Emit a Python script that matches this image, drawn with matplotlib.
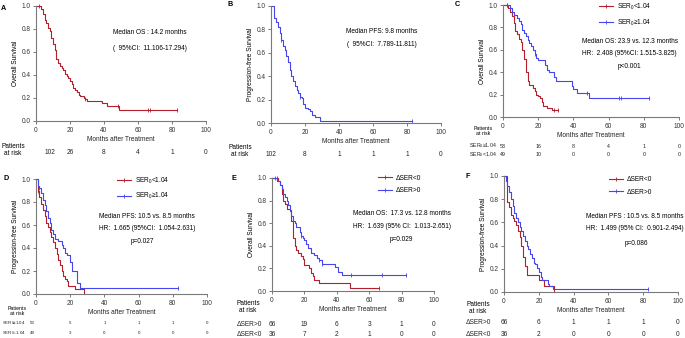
import numpy as np
import matplotlib
matplotlib.use("Agg")
import matplotlib.pyplot as plt
from matplotlib.lines import Line2D
from matplotlib.transforms import blended_transform_factory

plt.rcParams['font.family'] = ['Liberation Sans', 'DejaVu Sans']
plt.rcParams['mathtext.fontset'] = 'custom'
plt.rcParams['mathtext.rm'] = 'Liberation Sans'
plt.rcParams['mathtext.it'] = 'Liberation Sans'
plt.rcParams['mathtext.default'] = 'regular'

RED = "#b3202c"
BLUE = "#4646ee"

# ---------------- data ----------------
# Panel A: overall survival (all patients)
a_t = [0, 3, 4, 5, 6, 7, 8, 9, 10, 11, 12, 13, 14, 15, 16, 17, 18, 19, 20, 21, 22, 23, 24, 25, 26, 28, 29, 30, 31, 39, 42, 49, 83]
a_s = [1.0, 0.97, 0.93, 0.88, 0.85, 0.81, 0.78, 0.72, 0.67, 0.62, 0.54, 0.50, 0.48, 0.46, 0.44, 0.41, 0.39, 0.37, 0.35, 0.32, 0.29, 0.27, 0.25, 0.23, 0.22, 0.20, 0.19, 0.175, 0.175, 0.16, 0.13, 0.095, 0.095]
a_c = [2, 29, 48, 66, 67, 83]

# Panel B: progression-free survival (all patients)
b_t = [0, 2, 3, 4, 5, 6, 7, 8, 9, 10, 11, 12, 13, 14, 15, 16, 17, 18, 19, 20, 22, 23, 24, 26, 29, 83]
b_s = [1.0, 0.90, 0.86, 0.82, 0.77, 0.71, 0.66, 0.62, 0.57, 0.52, 0.45, 0.40, 0.36, 0.32, 0.28, 0.26, 0.22, 0.21, 0.16, 0.13, 0.12, 0.10, 0.07, 0.05, 0.02, 0.02]
b_c = [6, 17, 83]

# Panel C: OS by SER0
c_red_t = [0, 3, 4, 5, 6, 7, 8, 9, 10, 11, 12, 13, 14, 15, 17, 18, 19, 20, 21, 22, 23, 25, 28, 31]
c_red_s = [1.0, 0.97, 0.94, 0.90, 0.84, 0.77, 0.74, 0.70, 0.67, 0.60, 0.52, 0.40, 0.32, 0.29, 0.26, 0.23, 0.20, 0.19, 0.17, 0.13, 0.10, 0.08, 0.06, 0.06]
c_red_c = [2, 29, 31]
c_blue_t = [0, 4, 5, 6, 8, 9, 10, 11, 12, 13, 14, 15, 16, 17, 18, 19, 20, 24, 25, 26, 29, 30, 39, 40, 42, 49, 83]
c_blue_s = [1.0, 0.97, 0.94, 0.91, 0.88, 0.86, 0.83, 0.78, 0.75, 0.72, 0.69, 0.66, 0.63, 0.60, 0.56, 0.53, 0.51, 0.46, 0.42, 0.40, 0.36, 0.32, 0.28, 0.25, 0.21, 0.17, 0.17]
c_blue_c = [2, 18, 48, 66, 67, 83]

# Panel D: PFS by SER0
d_red_t = [0, 1, 2, 3, 4, 5, 6, 7, 8, 9, 10, 11, 12, 13, 14, 15, 16, 17, 18, 19, 23, 28]
d_red_s = [1.0, 0.90, 0.84, 0.78, 0.73, 0.68, 0.62, 0.58, 0.54, 0.50, 0.45, 0.40, 0.35, 0.30, 0.25, 0.20, 0.16, 0.13, 0.11, 0.07, 0.04, 0.0]
d_red_c = [1]
d_blue_t = [0, 1, 2, 3, 4, 5, 6, 7, 8, 9, 10, 11, 13, 15, 16, 17, 18, 20, 21, 24, 26, 83]
d_blue_s = [1.0, 0.94, 0.92, 0.88, 0.82, 0.77, 0.72, 0.66, 0.62, 0.56, 0.52, 0.48, 0.46, 0.43, 0.40, 0.36, 0.34, 0.28, 0.20, 0.10, 0.05, 0.05]
d_blue_c = [2, 83]

# Panel E: OS by delta SER
e_red_t = [0, 4, 5, 6, 7, 8, 9, 11, 12, 13, 14, 15, 16, 18, 19, 20, 23, 24, 25, 26, 29, 48, 66]
e_red_s = [1.0, 0.97, 0.94, 0.86, 0.80, 0.77, 0.73, 0.71, 0.62, 0.47, 0.40, 0.36, 0.34, 0.31, 0.28, 0.23, 0.20, 0.16, 0.13, 0.10, 0.07, 0.03, 0.03]
e_red_c = [3, 66]
e_blue_t = [0, 3, 5, 6, 7, 8, 9, 10, 11, 12, 13, 14, 15, 17, 18, 19, 20, 21, 22, 24, 26, 28, 29, 31, 39, 41, 43, 83]
e_blue_s = [1.0, 0.97, 0.94, 0.90, 0.86, 0.83, 0.80, 0.76, 0.72, 0.66, 0.62, 0.60, 0.57, 0.52, 0.49, 0.47, 0.45, 0.42, 0.38, 0.34, 0.32, 0.29, 0.27, 0.24, 0.21, 0.17, 0.14, 0.14]
e_blue_c = [2, 18, 29, 31, 49, 68, 83]

# Panel F: PFS by delta SER
f_red_t = [0, 2, 3, 4, 5, 6, 7, 8, 9, 10, 11, 12, 13, 20, 23, 29]
f_red_s = [1.0, 0.78, 0.73, 0.66, 0.64, 0.61, 0.58, 0.53, 0.47, 0.40, 0.30, 0.22, 0.15, 0.10, 0.05, 0.0]
f_red_c = []
f_blue_t = [0, 1, 2, 3, 4, 5, 6, 7, 8, 9, 10, 11, 12, 13, 14, 15, 16, 17, 18, 19, 20, 21, 22, 25, 26, 28, 83]
f_blue_s = [1.0, 0.96, 0.91, 0.86, 0.80, 0.74, 0.68, 0.64, 0.60, 0.56, 0.53, 0.48, 0.44, 0.40, 0.37, 0.33, 0.29, 0.25, 0.24, 0.21, 0.17, 0.13, 0.10, 0.07, 0.05, 0.03, 0.03]
f_blue_c = [83]

risk_times = [0, 20, 40, 60, 80, 100]
risk_a = [102, 26, 8, 4, 1, 0]
risk_b = [102, 8, 1, 1, 1, 0]
risk_c_hi = [53, 16, 8, 4, 1, 0]
risk_c_lo = [49, 10, 0, 0, 0, 0]
risk_d_hi = [53, 5, 1, 1, 1, 0]
risk_d_lo = [49, 3, 0, 0, 0, 0]
risk_e_pos = [66, 19, 6, 3, 1, 0]
risk_e_neg = [36, 7, 2, 1, 0, 0]
risk_f_pos = [66, 6, 1, 1, 1, 0]
risk_f_neg = [36, 2, 0, 0, 0, 0]

lab_ser_lo = "SER$_0$<1.04"
lab_ser_hi = "SER$_0$≥1.04"
lab_d_neg = "ΔSER<0"
lab_d_pos = "ΔSER>0"

# ---------------- figure ----------------
W, H = 685, 338
fig = plt.figure(figsize=(W / 100, H / 100), dpi=100)
FS = 4.7
FS_SMALL = 3.8
GRAY = "#7a7a7a"


def add_ax(l, r, t, b):
    ax = fig.add_axes([l / W, 1 - b / H, (r - l) / W, (b - t) / H])
    ax.set_xlim(0, 100)
    ax.set_ylim(0, 1.0)
    ax.set_xticks(risk_times)
    ax.set_yticks([0, 0.2, 0.4, 0.6, 0.8, 1.0])
    ax.set_yticklabels(["0.0", "0.2", "0.4", "0.6", "0.8", "1.0"])
    for s in ["top", "right"]:
        ax.spines[s].set_visible(False)
    for s in ["left", "bottom"]:
        ax.spines[s].set_color(GRAY)
        ax.spines[s].set_linewidth(0.8)
    ax.tick_params(length=2.5, width=0.7, color=GRAY, labelsize=FS, pad=1.5, labelcolor="#333333")
    ax.set_xlabel("Months after Treatment", fontsize=FS, labelpad=1.5, color="#222222")
    return ax


def km(ax, t, s, cens, color):
    ax.step(t, s, where="post", color=color, lw=0.8, clip_on=False)
    t_arr = np.array(t)
    s_arr = np.array(s)
    for c in cens:
        i = np.searchsorted(t_arr, c, side="right") - 1
        ax.plot([c], [s_arr[i]], marker="|", ms=2.5, mew=0.6, color=color, clip_on=False)


def risk_row(ax, y_px, values, label=None, label_x_px=None, first_x=None, fs=FS, label_ha="right"):
    tr = blended_transform_factory(ax.transData, fig.transFigure)
    for k, (tm, v) in enumerate(zip(risk_times, values)):
        x = tm if (k > 0 or first_x is None) else first_x
        ax.text(x, 1 - y_px / H, str(v), transform=tr, ha="center", va="center", fontsize=fs, color="#222222")
    if label is not None:
        fig.text(label_x_px / W, 1 - y_px / H, label, ha=label_ha, va="center", fontsize=fs, color="#222222")


def legend_handles():
    return [Line2D([], [], color=RED, lw=0.8, marker="|", ms=2.5, mew=0.6),
            Line2D([], [], color=BLUE, lw=0.8, marker="|", ms=2.5, mew=0.6)]


def add_legend(ax, labels, x, y):
    ax.legend(legend_handles(), labels, loc="upper left", bbox_to_anchor=(x, y),
              frameon=False, fontsize=FS, handlelength=2.2, handletextpad=0.6, labelspacing=0.85,
              borderpad=0, borderaxespad=0)


def panel_letter(x, y, s):
    fig.text(x / W, 1 - y / H, s, fontsize=5.2, fontweight="bold", ha="left", va="center")


# Panel A
axA = add_ax(36, 206, 6, 121)
km(axA, a_t, a_s, a_c, RED)
axA.set_ylabel("Overall Survival", fontsize=FS, labelpad=2)
axA.text(67, 0.77, "Median OS : 14.2 months", ha="center", va="center", fontsize=FS)
axA.text(67, 0.63, "(  95%CI:  11.106-17.294)", ha="center", va="center", fontsize=FS)
fig.text(13 / W, 1 - 150 / H, "Patients\nat risk", ha="center", va="center", fontsize=FS, linespacing=1.1)
risk_row(axA, 153, risk_a, first_x=8)
panel_letter(1, 8, "A")

# Panel B
axB = add_ax(271, 441, 6, 123)
km(axB, b_t, b_s, b_c, BLUE)
axB.set_ylabel("Progression-free Survival", fontsize=FS, labelpad=2)
axB.text(65, 0.78, "Median PFS: 9.8 months", ha="center", va="center", fontsize=FS)
axB.text(65, 0.675, "(  95%CI:  7.789-11.811)", ha="center", va="center", fontsize=FS)
fig.text(240 / W, 1 - 151 / H, "Patients\nat risk", ha="center", va="center", fontsize=FS, linespacing=1.1)
risk_row(axB, 154, risk_b)
panel_letter(228, 5, "B")

# Panel C
axC = add_ax(503, 679, 5, 117)
km(axC, c_red_t, c_red_s, c_red_c, RED)
km(axC, c_blue_t, c_blue_s, c_blue_c, BLUE)
axC.set_ylabel("Overall Survival", fontsize=FS, labelpad=2)
add_legend(axC, [lab_ser_lo, lab_ser_hi], 0.545, 1.03)
axC.text(72, 0.67, "Median OS: 23.9 vs. 12.3 months", ha="center", va="center", fontsize=FS)
axC.text(72, 0.57, "HR:  2.408 (95%CI: 1.515-3.825)", ha="center", va="center", fontsize=FS)
axC.text(72, 0.455, "p<0.001", ha="center", va="center", fontsize=FS)
fig.text(483 / W, 1 - 131 / H, "Patients\nat risk", ha="center", va="center", fontsize=FS_SMALL, linespacing=1.1)
risk_row(axC, 146, risk_c_hi, lab_ser_hi, 497, fs=FS_SMALL)
risk_row(axC, 155, risk_c_lo, lab_ser_lo, 497, fs=FS_SMALL)
panel_letter(455, 5, "C")

# Panel D
axD = add_ax(36, 207, 179, 294)
km(axD, d_red_t, d_red_s, d_red_c, RED)
km(axD, d_blue_t, d_blue_s, d_blue_c, BLUE)
axD.set_ylabel("Progression-free Survival", fontsize=FS, labelpad=2)
add_legend(axD, [lab_ser_lo, lab_ser_hi], 0.474, 1.03)
axD.text(65, 0.67, "Median PFS: 10.5 vs. 8.5 months", ha="center", va="center", fontsize=FS)
axD.text(65, 0.57, "HR:  1.665 (95%CI:  1.054-2.631)", ha="center", va="center", fontsize=FS)
axD.text(62, 0.46, "p=0.027", ha="center", va="center", fontsize=FS)
fig.text(17 / W, 1 - 311 / H, "Patients\nat risk", ha="center", va="center", fontsize=FS_SMALL, linespacing=1.1)
risk_row(axD, 323, risk_d_hi, lab_ser_hi, 1.5, first_x=-2.2, fs=3.2, label_ha="left")
risk_row(axD, 333, risk_d_lo, lab_ser_lo, 1.5, first_x=-2.2, fs=3.2, label_ha="left")
panel_letter(3, 179, "D")

# Panel E
axE = add_ax(272, 434, 178, 291)
km(axE, e_red_t, e_red_s, e_red_c, RED)
km(axE, e_blue_t, e_blue_s, e_blue_c, BLUE)
axE.set_ylabel("Overall Survival", fontsize=FS, labelpad=2)
add_legend(axE, [lab_d_neg, lab_d_pos], 0.654, 1.03)
axE.text(80, 0.69, "Median OS:  17.3 vs. 12.8 months", ha="center", va="center", fontsize=FS)
axE.text(80, 0.575, "HR:  1.639 (95% CI:  1.013-2.651)", ha="center", va="center", fontsize=FS)
axE.text(80, 0.46, "p=0.029", ha="center", va="center", fontsize=FS)
fig.text(248 / W, 1 - 307 / H, "Patients\nat risk", ha="center", va="center", fontsize=FS, linespacing=1.1)
risk_row(axE, 324, risk_e_pos, lab_d_pos, 262)
risk_row(axE, 334, risk_e_neg, lab_d_neg, 262)
panel_letter(231, 179, "E")

# Panel F
axF = add_ax(504, 678, 176, 292)
km(axF, f_red_t, f_red_s, f_red_c, RED)
km(axF, f_blue_t, f_blue_s, f_blue_c, BLUE)
axF.set_ylabel("Progression-free Survival", fontsize=FS, labelpad=2)
add_legend(axF, [lab_d_neg, lab_d_pos], 0.603, 1.0)
axF.text(75, 0.655, "Median PFS : 10.5 vs. 8.5 months", ha="center", va="center", fontsize=FS)
axF.text(75, 0.55, "HR:  1.499 (95% CI:  0.901-2.494)", ha="center", va="center", fontsize=FS)
axF.text(76, 0.42, "p=0.086", ha="center", va="center", fontsize=FS)
fig.text(478 / W, 1 - 308 / H, "Patients\nat risk", ha="center", va="center", fontsize=FS, linespacing=1.1)
risk_row(axF, 323, risk_f_pos, lab_d_pos, 491)
risk_row(axF, 334, risk_f_neg, lab_d_neg, 491)
panel_letter(466, 177, "F")

fig.savefig("out.png", dpi=100)
